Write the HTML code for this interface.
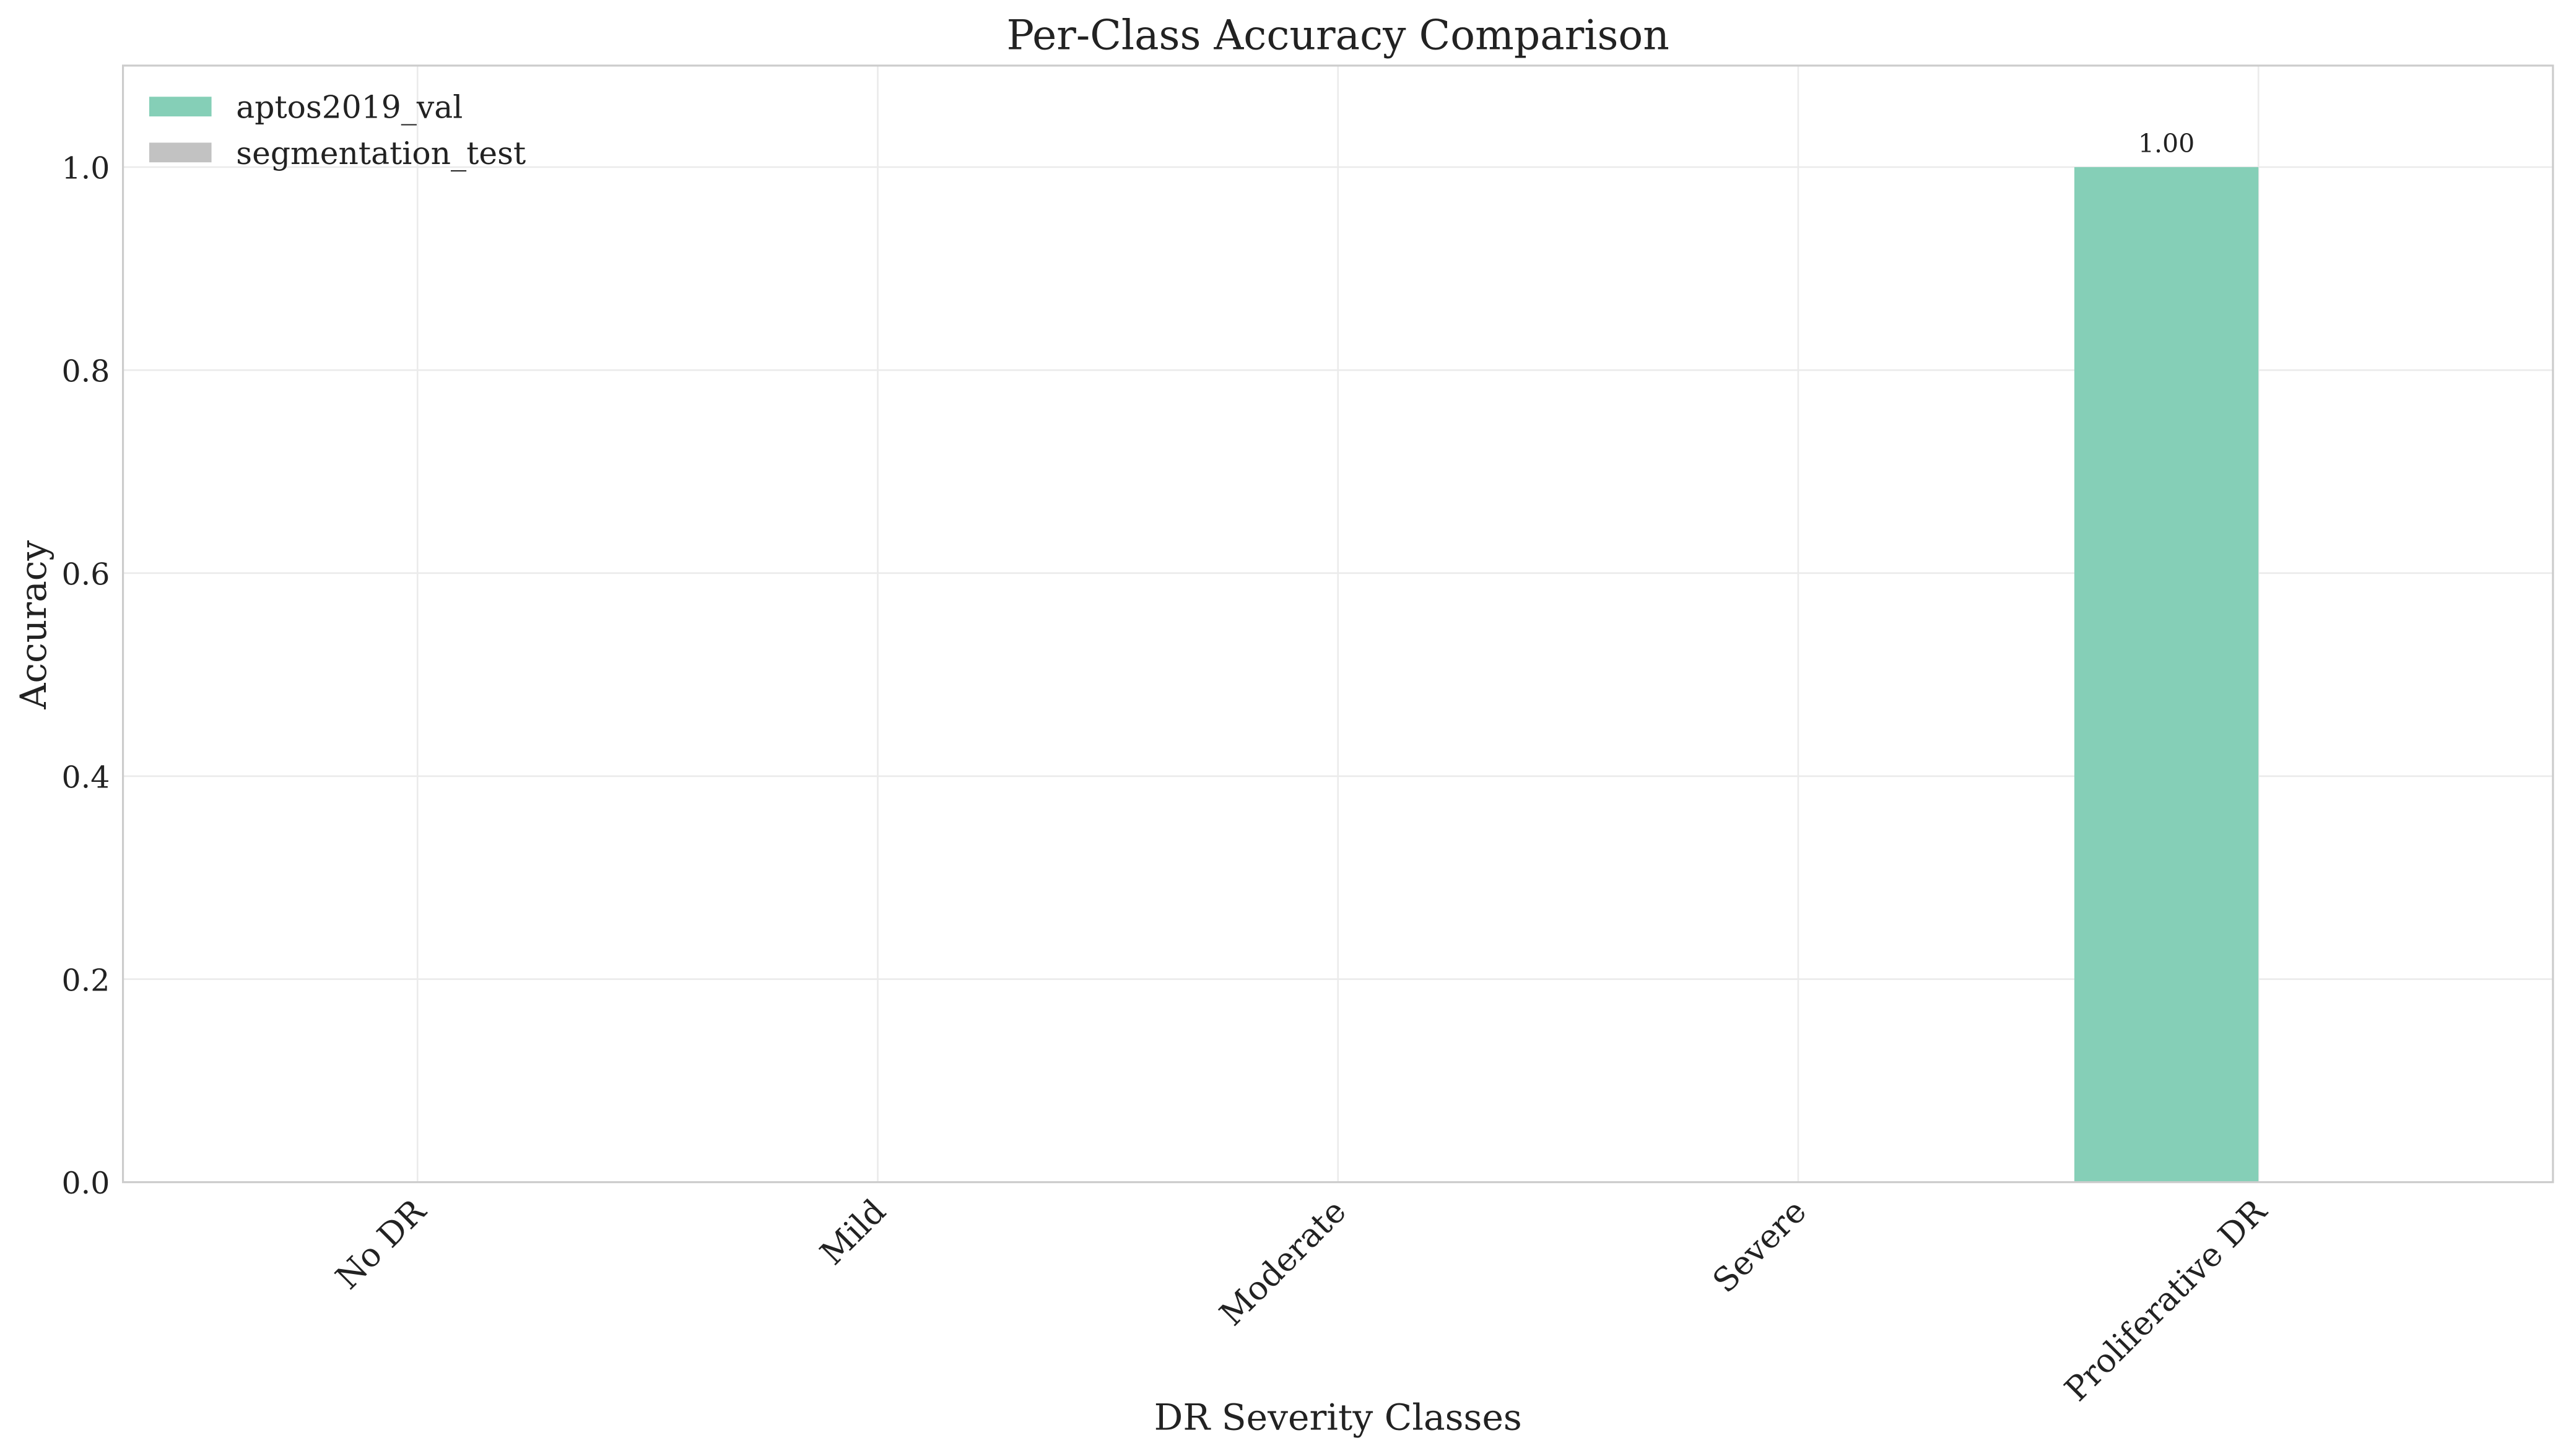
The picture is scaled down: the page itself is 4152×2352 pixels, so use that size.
<!DOCTYPE html>
<html><head><meta charset="utf-8"><style>html,body{margin:0;padding:0;background:#fff}svg{display:block}</style></head>
<body>
<svg id="chart" xmlns="http://www.w3.org/2000/svg" width="4152" height="2352" viewBox="0 0 1568 888" preserveAspectRatio="none" font-family="'DejaVu Serif','Liberation Serif',serif">
<rect x="0" y="0" width="1568" height="888" fill="#fff"/>
<g id="grid"></g>
<g id="bars"></g>
<rect x="75" y="40" width="1482" height="681" fill="none" stroke="#cccccc" stroke-width="1.2"/>
<g id="ticks"></g>
<text x="816" y="30" text-anchor="middle" font-size="25" fill="#222">Per-Class Accuracy Comparison</text>
<text x="816" y="872" text-anchor="middle" font-size="22" fill="#222">DR Severity Classes</text>
<text transform="translate(28,381) rotate(-90)" text-anchor="middle" font-size="22" fill="#222">Accuracy</text>
<g>
<rect x="91" y="59" width="38" height="12" fill="#85cfb7"/>
<text x="144" y="72" font-size="19" fill="#222">aptos2019_val</text>
<rect x="91" y="87" width="38" height="12" fill="#c2c2c2"/>
<text x="144" y="100" font-size="19" fill="#222">segmentation_test</text>
</g>
</svg>
<script>
const categories = ["No DR","Mild","Moderate","Severe","Proliferative DR"];
const aptosValues = [0,0,0,0,1.0];
const segValues = [0,0,0,0,0];
const yTicks = [0.0,0.2,0.4,0.6,0.8,1.0];
const NS="http://www.w3.org/2000/svg";
const L=75,R=1557,T=40,B=721;
const xMin=-0.64,xMax=4.64,yMax=1.1;
const xs=v=>L+(v-xMin)/(xMax-xMin)*(R-L);
const ys=v=>B-v/yMax*(B-T);
function mk(tag,attrs,parent){const e=document.createElementNS(NS,tag);for(const k in attrs)e.setAttribute(k,attrs[k]);parent.appendChild(e);return e;}
const grid=document.getElementById('grid'),bars=document.getElementById('bars'),ticks=document.getElementById('ticks');
yTicks.forEach(t=>{
  const g=mk('line',{x1:L,x2:R,y1:ys(t),y2:ys(t),stroke:'#ebebeb','stroke-width':1},grid);
  
  
  const tx=mk('text',{x:L-8,y:ys(t)+7,'text-anchor':'end','font-size':18.5,fill:'#222'},ticks);
  tx.textContent=t.toFixed(1);
  
  
});
const bw=0.4;
categories.forEach((c,i)=>{
  const g=mk('line',{x1:xs(i),x2:xs(i),y1:T,y2:B,stroke:'#ebebeb','stroke-width':1},grid);
  
  
  const a=aptosValues[i];
  const r1=mk('rect',{x:xs(i-bw),y:ys(a),width:xs(i)-xs(i-bw),height:B-ys(a),fill:'#85cfb7'},bars);
  
  
  const s=segValues[i];
  const r2=mk('rect',{x:xs(i),y:ys(s),width:xs(i+bw)-xs(i),height:B-ys(s),fill:'#c2c2c2'},bars);
  
  
  if(a>0){
    const lb=mk('text',{x:xs(i-bw/2),y:ys(a)-9,'text-anchor':'middle','font-size':15.5,fill:'#222'},bars);
    lb.textContent=a.toFixed(2);
    
    
  }
  if(s>0){
    const lb=mk('text',{x:xs(i+bw/2),y:ys(s)-9,'text-anchor':'middle','font-size':15.5,fill:'#222'},bars);
    lb.textContent=s.toFixed(2);
    
    
  }
  const tl=mk('text',{transform:`translate(${xs(i)+6},${B+19}) rotate(-45)`,'text-anchor':'end','font-size':20,fill:'#222'},ticks);
  tl.textContent=c;
  
  
});
</script>
</body></html>
